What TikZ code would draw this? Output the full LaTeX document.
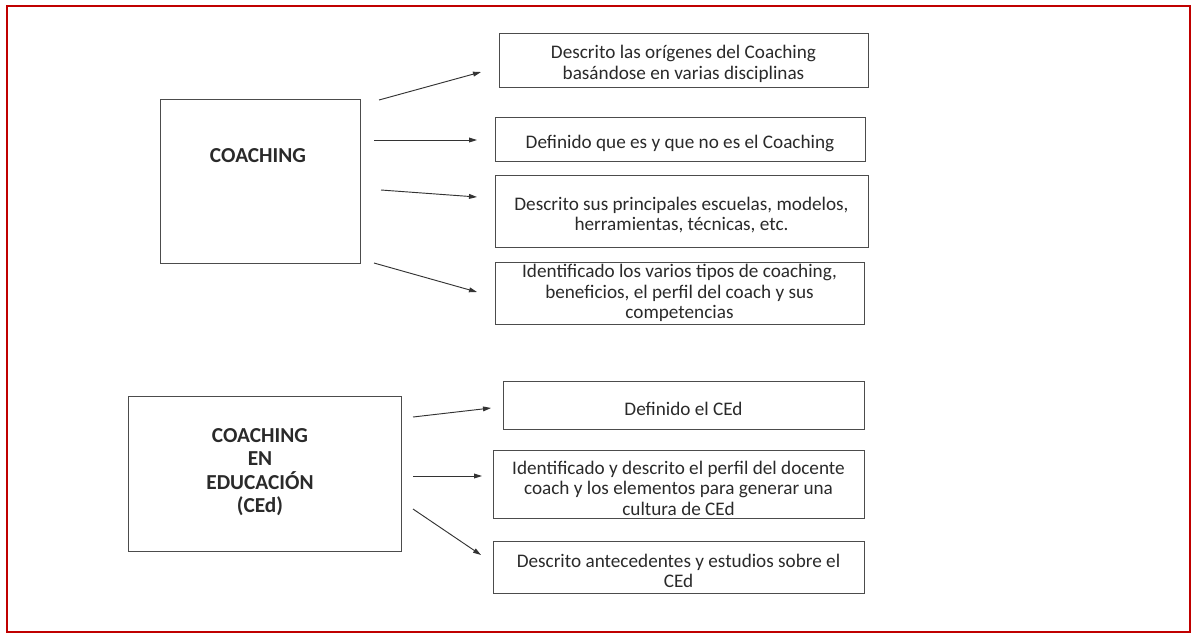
\documentclass[tikz,border=0pt]{standalone}
\usepackage{fontspec}
\setmainfont{Carlito}
\usetikzlibrary{arrows.meta}
\definecolor{framered}{HTML}{C00000}
\definecolor{inkgray}{HTML}{2A2A2A}
% strut that lowers the text block a little inside its box
\newcommand{\topstrut}{\rule{0pt}{16pt}}
\begin{document}
\begin{tikzpicture}[x=0.75pt,y=-0.75pt,
  txt/.style={font=\fontsize{14.4}{15.4}\selectfont,text=inkgray,align=center},
  topic/.style={draw=black!70,line width=0.6pt,inner sep=0pt},
  title/.style={font=\fontsize{16}{17.5}\selectfont\bfseries,text=inkgray,align=center,inner sep=0pt},
  item/.style={draw=black!70,line width=0.6pt,txt,inner sep=0pt},
  link/.style={draw=black!80,line width=0.7pt,-{Triangle[length=6pt,width=3.6pt]}}]
  \useasboundingbox (0,0) rectangle (1192,633);
  % outer frame
  \draw[framered,line width=1.6pt] (7,6) rectangle (1190,632);

  % topic boxes with their titles
  \node[topic,minimum width=200*0.75pt,minimum height=164*0.75pt] (coach) at (260,181) {};
  \node[title] (coacht) at (258,156) {COACHING};
  \node[topic,minimum width=273*0.75pt,minimum height=155*0.75pt] (ced) at (264.5,473.5) {};
  \node[title] (cedt) at (260,472) {COACHING\\EN\\EDUCACIÓN\\(CEd)};

  % result boxes, first group
  \node[item,minimum width=369*0.75pt,minimum height=54*0.75pt] (b1) at (683.5,60) {\topstrut Descrito las orígenes del Coaching\\basándose en varias disciplinas};
  \node[item,minimum width=370*0.75pt,minimum height=44*0.75pt] (b2) at (680,139) {\topstrut Definido que es y que no es el Coaching};
  \node[item,minimum width=373*0.75pt,minimum height=72*0.75pt] (b3) at (681.5,211) {\topstrut Descrito sus principales escuelas, modelos,\\herramientas, técnicas, etc.};
  \node[item,minimum width=369*0.75pt,minimum height=62*0.75pt] (b4) at (679.5,293) {Identificado los varios tipos de coaching,\\beneficios, el perfil del coach y sus\\competencias};

  % result boxes, second group
  \node[item,minimum width=361*0.75pt,minimum height=48*0.75pt] (b5) at (683.5,405) {\topstrut Definido el CEd};
  \node[item,minimum width=371*0.75pt,minimum height=68*0.75pt] (b6) at (678.5,484) {\topstrut Identificado y descrito el perfil del docente\\coach y los elementos para generar una\\cultura de CEd};
  \node[item,minimum width=371*0.75pt,minimum height=52*0.75pt] (b7) at (678.5,567) {\topstrut Descrito antecedentes y estudios sobre el\\CEd};

  % arrow end points
  \coordinate (s1) at (379,100); \coordinate (e1) at (481,72);
  \coordinate (s2) at (374,140); \coordinate (e2) at (477,140);
  \coordinate (s3) at (381,190); \coordinate (e3) at (477,197);
  \coordinate (s4) at (374,263); \coordinate (e4) at (477,292);
  \coordinate (s5) at (413,417); \coordinate (e5) at (491,408);
  \coordinate (s6) at (413,476); \coordinate (e6) at (482,476);
  \coordinate (s7) at (413,509); \coordinate (e7) at (481,555);

  \foreach \i in {1,...,7} \draw[link] (s\i) -- (e\i);
\end{tikzpicture}
\end{document}
